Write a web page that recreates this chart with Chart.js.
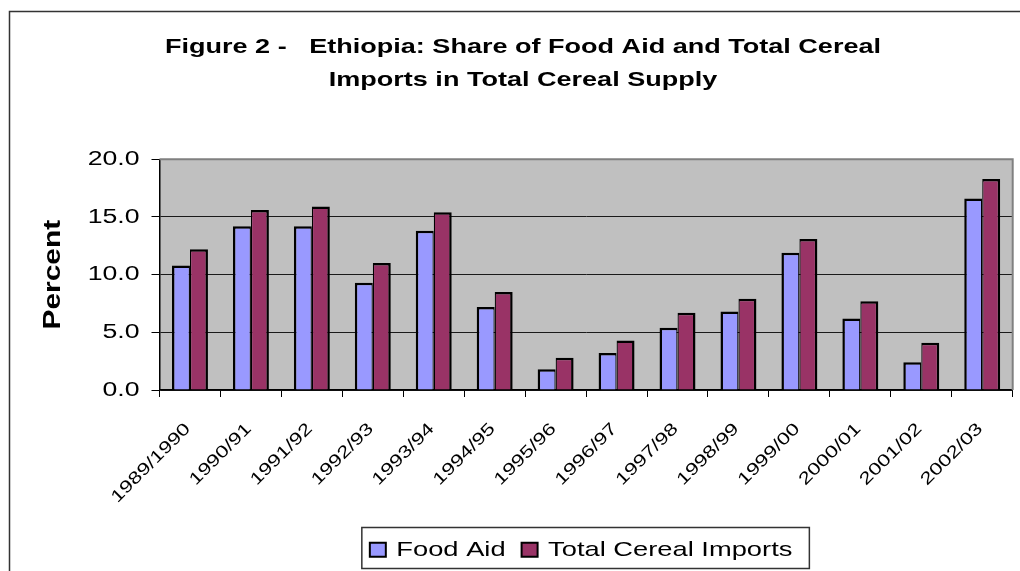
<!DOCTYPE html>
<html>
<head>
<meta charset="utf-8">
<title>Ethiopia: Share of Food Aid and Total Cereal Imports</title>
<script src="https://cdn.jsdelivr.net/npm/chart.js@4.4.1/dist/chart.umd.min.js"></script>
<style>
  html, body { margin: 0; padding: 0; background: #fff; overflow: hidden; }
  canvas { display: block; }
</style>
</head>
<body>
<canvas id="chart" width="1020" height="571"></canvas>
<script>
// --- Data ---
const categories = ['1989/1990', '1990/91', '1991/92', '1992/93', '1993/94', '1994/95', '1995/96',
  '1996/97', '1997/98', '1998/99', '1999/00', '2000/01', '2001/02', '2002/03'];
const foodAid = [10.8, 14.2, 14.2, 9.3, 13.8, 7.2, 1.8, 3.2, 5.4, 6.8, 11.9, 6.2, 2.4, 16.6];
const cerealImports = [12.2, 15.6, 15.9, 11.0, 15.4, 8.5, 2.8, 4.3, 6.7, 7.9, 13.1, 7.7, 4.1, 18.3];
const yTicks = [0, 5, 10, 15, 20];
const titleLines = ['Figure 2 -   Ethiopia: Share of Food Aid and Total Cereal', 'Imports in Total Cereal Supply'];

const FONT = "'Liberation Sans', Arial, sans-serif";
// the source picture is stretched ~1.3x along the text direction, so we widen glyphs the same way
const STRETCH = 1.3;

const canvas = document.getElementById('chart');
const ctx = canvas.getContext('2d');
const baseFill = ctx.fillText.bind(ctx);
const baseMeasure = ctx.measureText.bind(ctx);
ctx.fillText = function (text, x, y, maxWidth) {
  this.save();
  this.translate(x, y);
  this.scale(STRETCH, 1);
  if (maxWidth === undefined) baseFill(text, 0, 0);
  else baseFill(text, 0, 0, maxWidth / STRETCH);
  this.restore();
};
ctx.measureText = function (text) {
  const m = baseMeasure(text);
  return {
    width: m.width * STRETCH,
    actualBoundingBoxLeft: m.actualBoundingBoxLeft * STRETCH,
    actualBoundingBoxRight: m.actualBoundingBoxRight * STRETCH,
    actualBoundingBoxAscent: m.actualBoundingBoxAscent,
    actualBoundingBoxDescent: m.actualBoundingBoxDescent
  };
};

// --- Decorations: frame, plot background, title, legend box ---
const decor = {
  id: 'decor',
  afterLayout(chart) {
    // centre the legend under the plot area like the original
    const lg = chart.legend, a = chart.chartArea;
    lg.left = a.left - 10;
    lg.right = a.right;
    lg.width = lg.right - lg.left;
  },
  beforeDraw(chart) {
    const c = chart.ctx, a = chart.chartArea;
    c.save();
    c.fillStyle = '#fff';
    c.fillRect(0, 0, chart.width, chart.height);
    c.strokeStyle = '#333';
    c.lineWidth = 1.5;
    c.beginPath();
    c.moveTo(9.5, chart.height);
    c.lineTo(9.5, 11.5);
    c.lineTo(chart.width, 11.5);
    c.stroke();
    c.fillStyle = '#c0c0c0';
    c.fillRect(a.left, a.top, a.right - a.left, a.bottom - a.top);
    c.restore();
  },
  beforeDatasetsDraw(chart) {
    const c = chart.ctx, a = chart.chartArea;
    c.save();
    c.strokeStyle = '#808080';
    c.lineWidth = 2;
    c.beginPath();
    c.moveTo(a.left, a.top);
    c.lineTo(a.right, a.top);
    c.lineTo(a.right, a.bottom);
    c.stroke();
    c.restore();
  },
  afterDraw(chart) {
    const c = chart.ctx;
    c.save();
    c.fillStyle = '#000';
    c.font = 'bold 20.8px ' + FONT;
    c.textAlign = 'center';
    c.textBaseline = 'alphabetic';
    c.fillText(titleLines[0], 523, 52.5);
    c.fillText(titleLines[1], 523, 86);

    const hb = chart.legend.legendHitBoxes;
    if (hb && hb.length) {
      const first = hb[0], last = hb[hb.length - 1];
      c.strokeStyle = '#333';
      c.lineWidth = 1.5;
      c.strokeRect(first.left - 8, first.top - 11.75,
        last.left + last.width + 17 - (first.left - 8), 41);
    }
    c.restore();
  }
};

Chart.defaults.font.family = FONT;
Chart.defaults.color = '#000';

new Chart(ctx, {
  type: 'bar',
  data: {
    labels: categories,
    datasets: [
      { label: 'Food Aid', data: foodAid, backgroundColor: '#9999ff', borderColor: '#000',
        borderWidth: { top: 2.5, left: 2.5, right: 1.25, bottom: 0 } },
      { label: 'Total Cereal Imports', data: cerealImports, backgroundColor: '#993366', borderColor: '#000',
        borderWidth: { top: 2.5, left: 1.25, right: 2.5, bottom: 0 } }
    ]
  },
  options: {
    responsive: false,
    animation: false,
    categoryPercentage: 0.59,
    barPercentage: 1,
    layout: { padding: { left: 0, right: 7.3, top: 159.3, bottom: 0.75 } },
    scales: {
      x: {
        grid: { display: true, drawOnChartArea: false, drawTicks: true, tickLength: 7, tickColor: '#000', offset: true },
        border: { color: '#000', width: 1.5 },
        ticks: { autoSkip: false, minRotation: 45, maxRotation: 45, padding: 22, labelOffset: -2,
          font: { size: 17 }, color: '#000' },
        afterFit: s => { s.height = 133.25; }
      },
      y: {
        min: 0,
        max: 20,
        afterBuildTicks: s => { s.ticks = yTicks.map(v => ({ value: v })); },
        grid: {
          color: c => (c.tick && c.tick.value === 20 ? 'rgba(0,0,0,0)' : '#1a1a1a'),
          lineWidth: 1, tickLength: 8, tickColor: '#000'
        },
        border: { color: '#000', width: 1.5 },
        ticks: { padding: 12, font: { size: 20.5 }, color: '#000', callback: v => Number(v).toFixed(1) },
        title: { display: true, text: 'Percent', color: '#000', font: { size: 23, weight: 'bold' }, padding: { top: 40, bottom: 0 } },
        afterFit: s => { s.width = 159.5; }
      }
    },
    plugins: {
      title: { display: false },
      tooltip: { enabled: false },
      legend: {
        position: 'bottom',
        labels: {
          boxWidth: 16, boxHeight: 14, padding: 16, color: '#000', font: { size: 21 },
          generateLabels: chart => Chart.defaults.plugins.legend.labels.generateLabels(chart)
            .map(l => Object.assign(l, { lineWidth: 2, strokeStyle: '#000' }))
        }
      }
    }
  },
  plugins: [decor]
});
</script>
</body>
</html>
